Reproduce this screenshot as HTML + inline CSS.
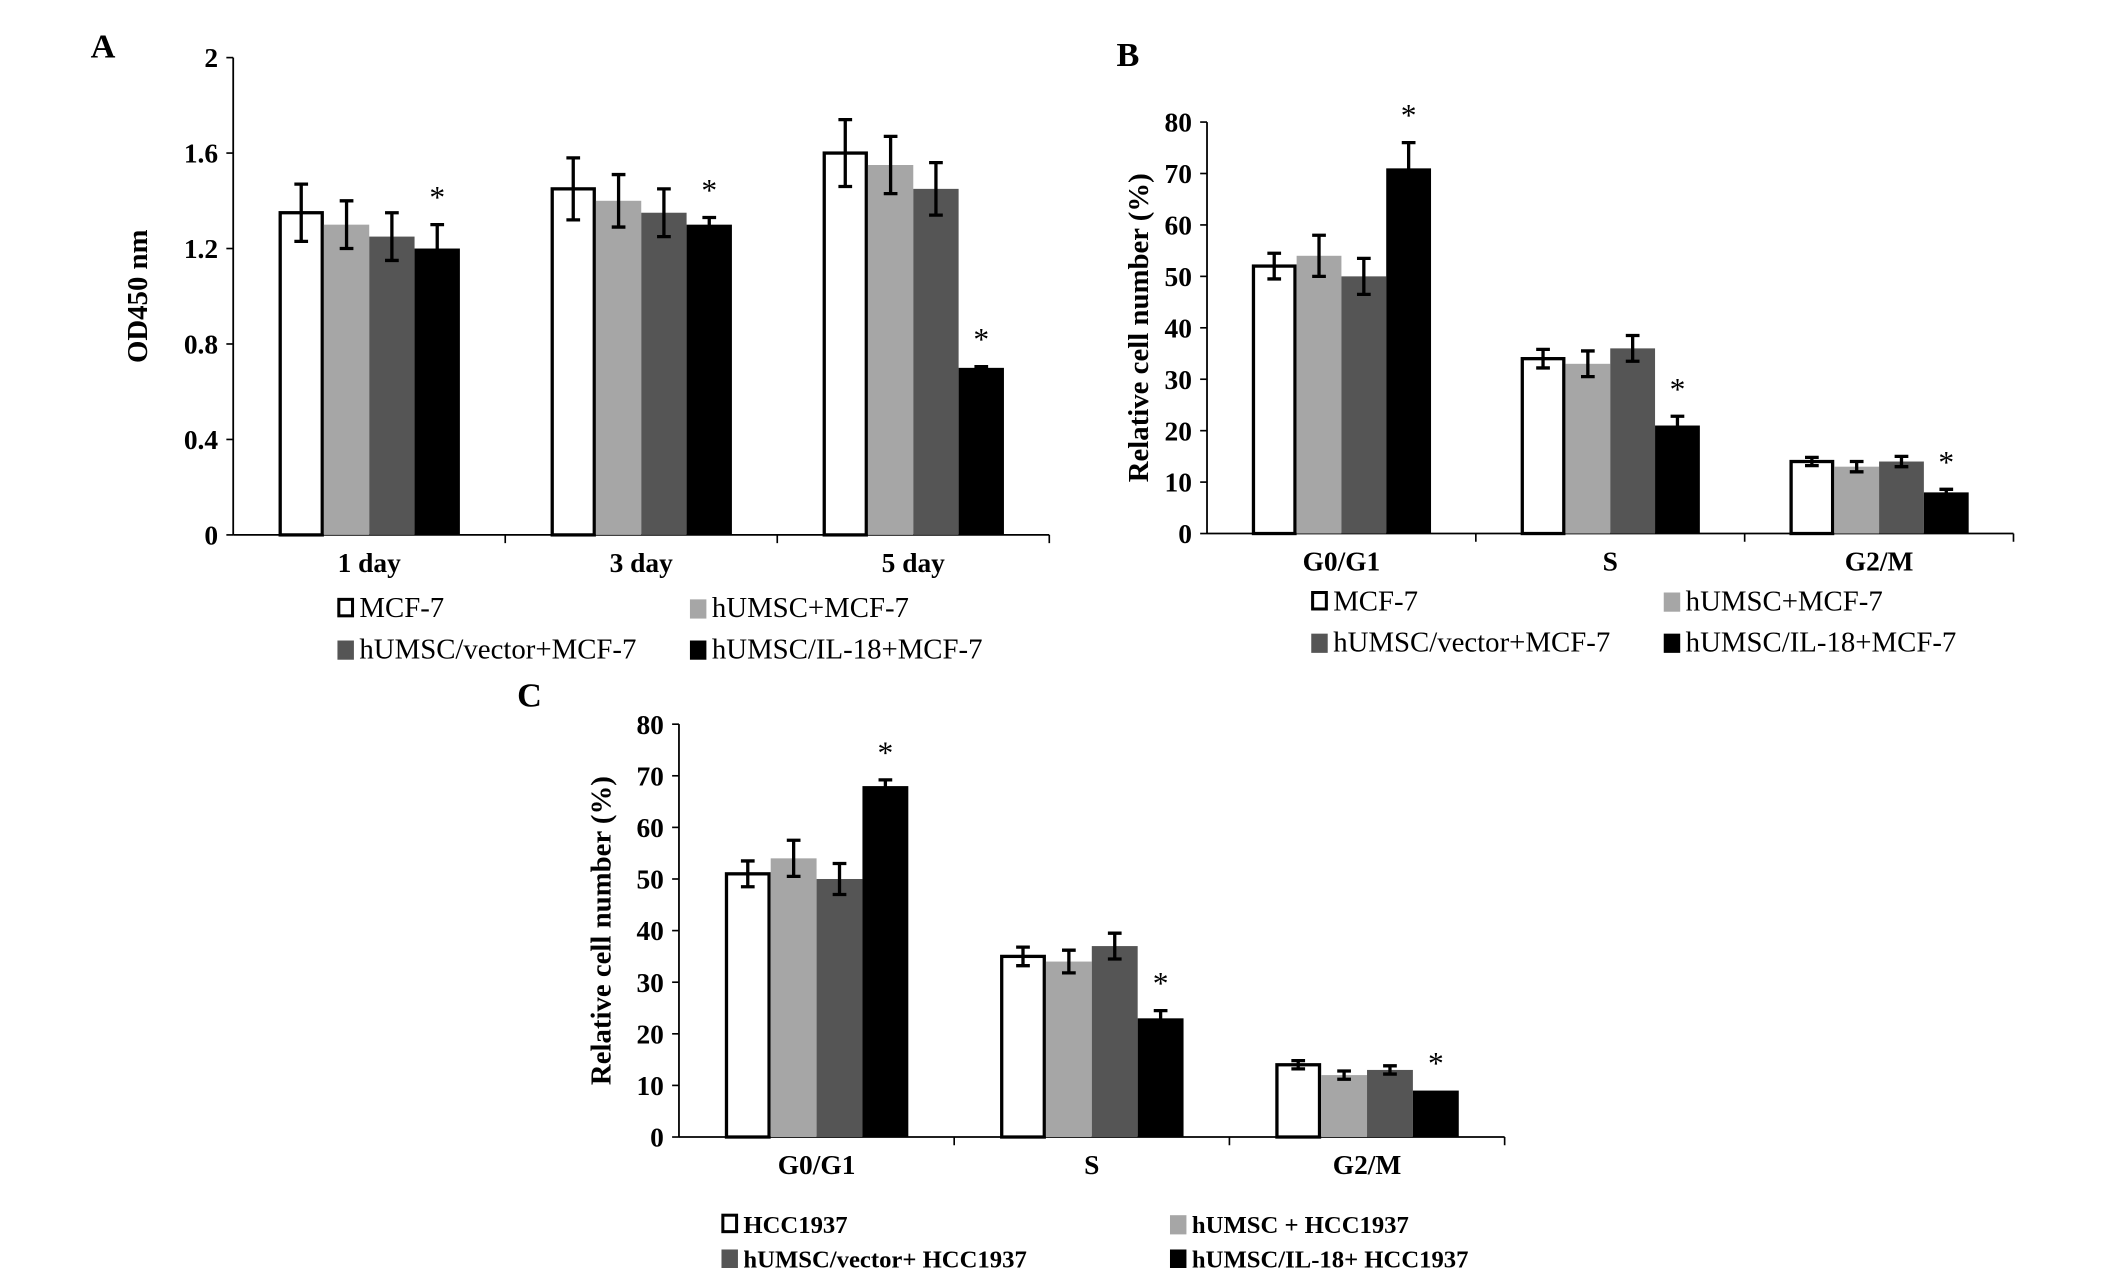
<!DOCTYPE html>
<html><head><meta charset="utf-8"><style>
html,body{margin:0;padding:0;background:#fff;}
svg{display:block;}
text{font-family:"Liberation Serif",serif;fill:#000;}
</style></head><body>
<svg id="fig" width="2126" height="1268" viewBox="0 0 1550 924.5" xmlns="http://www.w3.org/2000/svg"></svg>
<script>
// Panel A data
const catsA = ["1 day","3 day","5 day"];
const ticksA = [0,0.4,0.8,1.2,1.6,2];
const a_mcf = [1.35,1.45,1.60];
const a_humsc = [1.30,1.40,1.55];
const a_vector = [1.25,1.35,1.45];
const a_il18 = [1.20,1.30,0.70];
const a_err_mcf = [0.12,0.13,0.14];
const a_err_humsc = [0.10,0.11,0.12];
const a_err_vector = [0.10,0.10,0.11];
const a_err_il18 = [0.10,0.03,0.005];
const namesA = ["MCF-7","hUMSC+MCF-7","hUMSC/vector+MCF-7","hUMSC/IL-18+MCF-7"];
// Panel B data
const catsB = ["G0/G1","S","G2/M"];
const ticksB = [0,10,20,30,40,50,60,70,80];
const b_mcf = [52,34,14];
const b_humsc = [54,33,13];
const b_vector = [50,36,14];
const b_il18 = [71,21,8];
const b_err_mcf = [2.5,1.8,0.8];
const b_err_humsc = [4,2.5,1];
const b_err_vector = [3.5,2.5,1];
const b_err_il18 = [5,1.8,0.6];
const namesB = ["MCF-7","hUMSC+MCF-7","hUMSC/vector+MCF-7","hUMSC/IL-18+MCF-7"];
// Panel C data
const catsC = ["G0/G1","S","G2/M"];
const ticksC = [0,10,20,30,40,50,60,70,80];
const c_hcc = [51,35,14];
const c_humsc = [54,34,12];
const c_vector = [50,37,13];
const c_il18 = [68,23,9];
const c_err_hcc = [2.5,1.8,0.8];
const c_err_humsc = [3.5,2.2,0.8];
const c_err_vector = [3,2.5,0.8];
const c_err_il18 = [1.2,1.5,0];
const namesC = ["HCC1937","hUMSC + HCC1937","hUMSC/vector+ HCC1937","hUMSC/IL-18+ HCC1937"];

const NS="http://www.w3.org/2000/svg";
const svg=document.getElementById('fig');
const fills=["#fff","#a6a6a6","#555","#000"];
function mk(tag,attrs,parent){const e=document.createElementNS(NS,tag);for(const k in attrs)e.setAttribute(k,attrs[k]);(parent||svg).appendChild(e);return e;}

function chart(o){
  const g=mk('g',{});
  
  
  const ymax=o.ticks[o.ticks.length-1];
  const Y=v=>o.y0-(v/ymax)*(o.y0-o.yTop);
  const cw=(o.xEnd-o.x0)/o.cats.length;
  const bw=cw/6;
  const X=(ci,si)=>o.x0+ci*cw+bw*(1+si);
  const ya=mk('line',{x1:o.x0,y1:o.yTop,x2:o.x0,y2:o.y0,stroke:'#000','stroke-width':1.3},g);
  
  
  const xa=mk('line',{x1:o.x0,y1:o.y0,x2:o.xEnd,y2:o.y0,stroke:'#000','stroke-width':1.3},g);
  
  
  o.ticks.forEach(t=>{
    mk('line',{x1:o.x0-5,y1:Y(t),x2:o.x0,y2:Y(t),stroke:'#000','stroke-width':1.2},g);
    const tl=mk('text',{x:o.x0-11,y:Y(t)+7,'text-anchor':'end','font-size':20,'font-weight':'bold'},g);
    tl.textContent=t;
    
    
  });
  for(let i=1;i<=o.cats.length;i++) mk('line',{x1:o.x0+i*cw,y1:o.y0,x2:o.x0+i*cw,y2:o.y0+6,stroke:'#000','stroke-width':1.2},g);
  o.cats.forEach((c,ci)=>{
    const cl=mk('text',{x:o.x0+ci*cw+cw/2,y:o.y0+27,'text-anchor':'middle','font-size':20,'font-weight':'bold'},g);
    cl.textContent=c;
    
    
  });
  o.series.forEach((s,si)=>{
    s.forEach((v,ci)=>{
      const x=X(ci,si);
      const r=mk('rect',{x:si==0?x+1.2:x,y:Y(v),width:si==0?bw-2.4:bw,height:o.y0-Y(v),fill:fills[si],stroke:si==0?'#000':'none','stroke-width':2.4},g);
      
      
      const e=o.errs[si][ci];
      if(e>0){
        const cx=x+bw/2;
        const eb=mk('path',{d:`M${cx},${Y(v+e)}V${Y(v-e)}M${cx-5},${Y(v+e)}H${cx+5}M${cx-5},${Y(v-e)}H${cx+5}`,stroke:'#000','stroke-width':2.4,fill:'none'},g);
        
        
      }
    });
  });
  o.stars.forEach(ci=>{
    const si=3,v=o.series[si][ci],e=o.errs[si][ci];
    const st=mk('text',{x:X(ci,si)+bw/2,y:Y(v+e)-12,'text-anchor':'middle','font-size':23},g);
    st.textContent='*';
    
    
  });
  const ttl=mk('text',{x:0,y:0,'text-anchor':'middle','font-size':o.tfs,'font-weight':'bold',transform:`translate(${o.tx},${(o.yTop+o.y0)/2}) rotate(-90)`},g);
  ttl.textContent=o.title;
  
  
  const pl=mk('text',{x:o.lx,y:o.ly,'font-size':25,'font-weight':'bold'},g);
  pl.textContent=o.letter;
  
  
  o.names.forEach((n,i)=>{
    const lx=o.legX[i%2],ly=o.legY[Math.floor(i/2)];
    const sq=mk('rect',{x:i==0?lx+1:lx,y:ly-13,width:i==0?10:12,height:i==0?12:14,fill:fills[i],stroke:i==0?'#000':'none','stroke-width':2.2},g);
    
    
    const lt=mk('text',{x:lx+16,y:ly,'font-size':o.lfs,'font-weight':o.lbold?'bold':'normal'},g);
    lt.textContent=n;
    
    
  });
}

chart({id:'a',cats:catsA,ticks:ticksA,series:[a_mcf,a_humsc,a_vector,a_il18],errs:[a_err_mcf,a_err_humsc,a_err_vector,a_err_il18],
  x0:170,xEnd:765,yTop:42,y0:390,stars:[0,1,2],title:'OD450 nm',tx:107,tfs:21,letter:'A',lx:66,ly:42,
  names:namesA,legX:[246,503],legY:[450,480],lfs:21,lbold:false});
chart({id:'b',cats:catsB,ticks:ticksB,series:[b_mcf,b_humsc,b_vector,b_il18],errs:[b_err_mcf,b_err_humsc,b_err_vector,b_err_il18],
  x0:880,xEnd:1468,yTop:89,y0:389,stars:[0,1,2],title:'Relative cell number (%)',tx:837,tfs:21,letter:'B',lx:814,ly:48,
  names:namesB,legX:[956,1213],legY:[445,475],lfs:21,lbold:false});
chart({id:'c',cats:catsC,ticks:ticksC,series:[c_hcc,c_humsc,c_vector,c_il18],errs:[c_err_hcc,c_err_humsc,c_err_vector,c_err_il18],
  x0:495,xEnd:1097,yTop:528,y0:829,stars:[0,1,2],title:'Relative cell number (%)',tx:445,tfs:21,letter:'C',lx:377,ly:515,
  names:namesC,legX:[526,853],legY:[899,924],lfs:18,lbold:true});
</script>
</body></html>
